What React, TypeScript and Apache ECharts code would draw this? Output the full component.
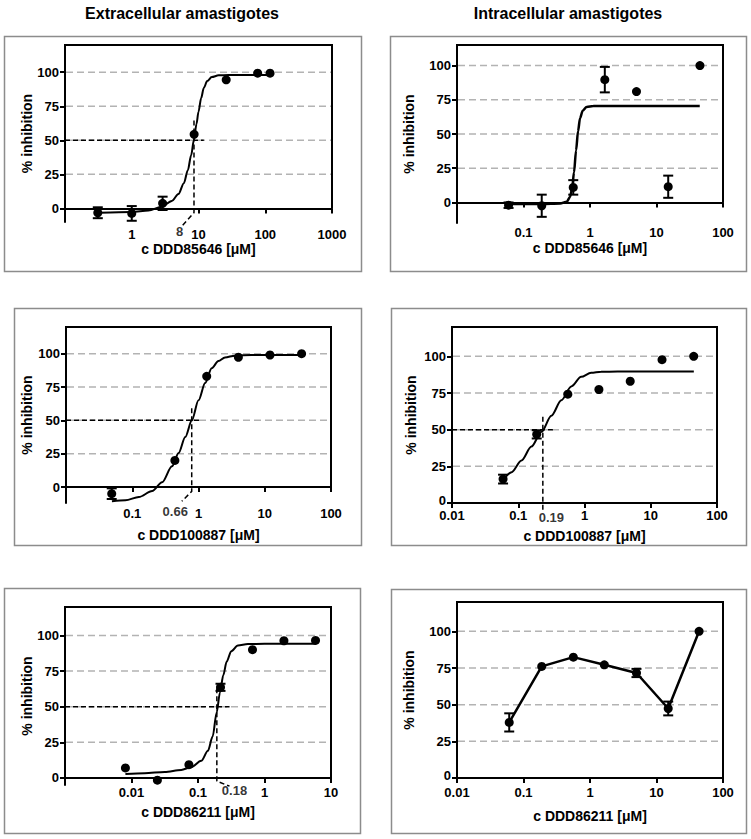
import React, { useEffect, useRef } from "react";
import * as echarts from "echarts";

// ---------- data ----------
const Y_TICKS = [0, 25, 50, 75, 100];
const GRID_VALUES = [25, 50, 75, 100];

// Panel 1: extracellular, DDD85646
const p1Conc = [0.31, 1.0, 2.9, 8.6, 26, 77, 118];
const p1Inhib = [-3.2, -3.7, 3.7, 54.4, 94.4, 99.3, 99.3];
const p1Err = [4, 5.4, 4.9, 0, 0, 0, 0];
const p1CurveConc = [0.33, 1.0, 1.78, 2.82, 3.98, 5.01, 6.03, 6.92, 7.76, 8.51, 9.33, 10.0, 10.96, 12.0, 13.5, 15.8, 20.0, 28.2, 117.5];
const p1CurveInhib = [-3.2, -2.6, -1.5, 1.2, 5.5, 10.5, 18.5, 28, 39, 50, 62, 71, 81, 88.5, 93.5, 96.5, 97.7, 98, 98];
const p1HLine = [[0.1, 50], [12, 50]];
const p1VLine = [[8.56, 64.5], [8.56, -3.2], [5.53, -13.5]];
const p1Ec50Label = [5.2, -17.2, "8"];

// Panel 2: intracellular, DDD85646
const p2Conc = [0.0596, 0.188, 0.56, 1.67, 5.0, 15, 45];
const p2Inhib = [-2.0, -2.4, 11, 89.7, 81, 11.5, 100];
const p2Err = [2, 8.1, 5.3, 9.3, 0, 8.1, 0];
const p2CurveConc = [0.0596, 0.188, 0.355, 0.447, 0.501, 0.537, 0.575, 0.617, 0.661, 0.708, 0.776, 0.891, 1.12, 2.0, 44.7];
const p2CurveInhib = [-1.2, -1.2, -0.8, 0.5, 4, 10, 22, 38, 52, 61.5, 67, 69.8, 70.4, 70.5, 70.5];

// Panel 3: extracellular, DDD100887
const p3Conc = [0.049, 0.44, 1.33, 4.0, 12, 36];
const p3Inhib = [-5, 19.9, 83, 97.3, 99, 100];
const p3Err = [4, 0, 0, 0, 0, 0];
const p3CurveConc = [0.0493, 0.079, 0.126, 0.2, 0.282, 0.398, 0.501, 0.631, 0.794, 1.0, 1.26, 1.58, 2.0, 2.51, 3.55, 6.3, 36.1];
const p3CurveInhib = [-10.7, -9.9, -7.5, -3, 3.5, 15.5, 25.5, 37.5, 50, 65, 78, 89, 94.5, 97.2, 98.5, 99, 99];
const p3HLine = [[0.01, 50], [1.06, 50]];
const p3VLine = [[0.79, 59], [0.79, -3.3], [0.56, -10.7]];
const p3Ec50Label = [0.446, -18.2, "0.66"];

// Panel 4: intracellular, DDD100887
const p4Conc = [0.059, 0.19, 0.56, 1.65, 4.9, 14.8, 44.5];
const p4Inhib = [16.3, 46.8, 74.2, 77.4, 83, 97.7, 100];
const p4Err = [3, 2.8, 0, 0, 0, 0, 0];
const p4CurveConc = [0.0589, 0.0794, 0.112, 0.158, 0.224, 0.316, 0.447, 0.631, 0.891, 1.26, 1.78, 3.16, 44.7];
const p4CurveInhib = [15.4, 21, 29, 38.5, 48.5, 59.5, 70, 79.5, 86, 88.8, 89.5, 89.6, 89.6];
const p4HLine = [[0.01, 50], [0.333, 50]];
const p4VLine = [[0.235, 58.8], [0.235, -5.7]];
const p4Ec50Label = [0.316, -9.7, "0.19"];

// Panel 5: extracellular, DDD86211
const p5Conc = [0.0081, 0.0245, 0.073, 0.218, 0.66, 1.96, 5.85];
const p5Inhib = [7.0, -1.6, 9.3, 63.6, 90, 96.3, 96.5];
const p5Err = [0, 0, 0, 2.5, 0, 0, 0];
const p5CurveConc = [0.0081, 0.0158, 0.0316, 0.056, 0.079, 0.112, 0.141, 0.166, 0.191, 0.214, 0.24, 0.269, 0.316, 0.398, 0.562, 1.0, 5.85];
const p5CurveInhib = [2.8, 3.3, 4.2, 5.6, 7.5, 12, 19, 29, 46, 60, 72, 81.5, 89, 93, 94, 94.2, 94.2];
const p5HLine = [[0.001, 50], [0.298, 50]];
const p5VLine = [[0.192, 63], [0.192, -2.3], [0.298, -5.8]];
const p5Ec50Label = [0.354, -8.6, "0.18"];

// Panel 6: intracellular, DDD86211 (points joined)
const p6Conc = [0.061, 0.188, 0.562, 1.64, 5.0, 15.0, 43.7];
const p6Inhib = [37.9, 76.1, 82.4, 77.2, 71.6, 47.4, 100];
const p6Err = [6.2, 0, 0, 0, 2.8, 4.7, 0];

// ---------- layout ----------
const FONT = "Liberation Sans";

type PanelCfg = {
  grid: { left: number; top: number; width: number; height: number };
  xMin: number; xMax: number; yMin: number; yMax: number;
  hideBelow: number;
  xName: string; xNameGap: number; xLabelMargin: number; yNameGap: number;
  liftZero?: boolean;
  conc: number[]; inhib: number[]; err: number[];
  curveConc?: number[]; curveInhib?: number[];
  joined?: boolean;
  hLine?: number[][]; vLine?: number[][]; ec50Label?: (number | string)[];
};

const panels: PanelCfg[] = [
  {
    grid: { left: 65, top: 45, width: 267, height: 177 },
    xMin: 0.1, xMax: 1000, yMin: -10, yMax: 120, hideBelow: 0.1,
    xName: "c DDD85646 [\u03bcM]", xNameGap: 20, xLabelMargin: 6, yNameGap: 31,
    conc: p1Conc, inhib: p1Inhib, err: p1Err,
    curveConc: p1CurveConc, curveInhib: p1CurveInhib,
    hLine: p1HLine, vLine: p1VLine, ec50Label: p1Ec50Label,
  },
  {
    grid: { left: 457, top: 45, width: 266, height: 178 },
    xMin: 0.01, xMax: 100, yMin: -15, yMax: 115, hideBelow: 0.01,
    xName: "c DDD85646 [\u03bcM]", xNameGap: 18, xLabelMargin: 3, yNameGap: 41,
    conc: p2Conc, inhib: p2Inhib, err: p2Err,
    curveConc: p2CurveConc, curveInhib: p2CurveInhib,
  },
  {
    grid: { left: 66, top: 327, width: 265, height: 176 },
    xMin: 0.01, xMax: 100, yMin: -12, yMax: 120, hideBelow: 0.01,
    xName: "c DDD100887 [\u03bcM]", xNameGap: 25, xLabelMargin: 4, yNameGap: 32,
    conc: p3Conc, inhib: p3Inhib, err: p3Err,
    curveConc: p3CurveConc, curveInhib: p3CurveInhib,
    hLine: p3HLine, vLine: p3VLine, ec50Label: p3Ec50Label,
  },
  {
    grid: { left: 452, top: 327, width: 265, height: 176 },
    xMin: 0.01, xMax: 100, yMin: 0, yMax: 120, hideBelow: 0.001,
    xName: "c DDD100887 [\u03bcM]", xNameGap: 26, xLabelMargin: 6, yNameGap: 34, liftZero: true,
    conc: p4Conc, inhib: p4Inhib, err: p4Err,
    curveConc: p4CurveConc, curveInhib: p4CurveInhib,
    hLine: p4HLine, vLine: p4VLine, ec50Label: p4Ec50Label,
  },
  {
    grid: { left: 65, top: 607, width: 266, height: 178 },
    xMin: 0.001, xMax: 10, yMin: -5, yMax: 120, hideBelow: 0.001,
    xName: "c DDD86211 [\u03bcM]", xNameGap: 20, xLabelMargin: 1, yNameGap: 31,
    conc: p5Conc, inhib: p5Inhib, err: p5Err,
    curveConc: p5CurveConc, curveInhib: p5CurveInhib,
    hLine: p5HLine, vLine: p5VLine, ec50Label: p5Ec50Label,
  },
  {
    grid: { left: 457, top: 602, width: 266, height: 176 },
    xMin: 0.01, xMax: 100, yMin: 0, yMax: 120, hideBelow: 0.001,
    xName: "c DDD86211 [\u03bcM]", xNameGap: 31, xLabelMargin: 8, yNameGap: 41, liftZero: true,
    conc: p6Conc, inhib: p6Inhib, err: p6Err, joined: true,
  },
];

const boxes = [
  { x: 4, y: 36, w: 357, h: 235 },
  { x: 390, y: 36, w: 356, h: 235 },
  { x: 14, y: 308, w: 347, h: 237 },
  { x: 391, y: 308, w: 355, h: 237 },
  { x: 4, y: 588, w: 356, h: 245 },
  { x: 391, y: 589, w: 355, h: 244 },
];

const labelStyle = { color: "#000", fontWeight: "bold" as const, fontFamily: FONT, fontSize: 13 };
const black = "#000";

function buildOption() {
  const grid: any[] = [];
  const xAxis: any[] = [];
  const yAxis: any[] = [];
  const series: any[] = [];

  panels.forEach((p, i) => {
    grid.push({ ...p.grid, containLabel: false });
    xAxis.push({
      gridIndex: i, type: "log", logBase: 10, min: p.xMin, max: p.xMax,
      axisLine: { onZero: true, lineStyle: { color: black, width: 2 } },
      axisTick: { length: 5, lineStyle: { color: black, width: 2 } },
      axisLabel: {
        ...labelStyle, lineHeight: 12, margin: p.xLabelMargin,
        formatter: (v: number) => (v <= p.hideBelow * 1.0001 ? "" : String(v)),
      },
      splitLine: { show: false },
      name: p.xName, nameLocation: "middle", nameGap: p.xNameGap, nameMoveOverlap: false,
      nameTextStyle: { ...labelStyle, fontSize: 14 },
    });
    yAxis.push({
      gridIndex: i, type: "value", min: p.yMin, max: p.yMax,
      axisLine: { onZero: false, lineStyle: { color: black, width: 2 } },
      axisTick: { customValues: Y_TICKS, length: 5, lineStyle: { color: black, width: 2 } },
      axisLabel: {
        ...labelStyle, lineHeight: 12, customValues: Y_TICKS, margin: 6,
        formatter: (v: number) => (p.liftZero && v === 0 ? "{lift|0}" : String(v)),
        rich: { lift: { ...labelStyle, lineHeight: 12, padding: [0, 0, 6, 0] } },
      },
      splitLine: { show: false },
      name: "% inhibition", nameLocation: "middle", nameGap: p.yNameGap, nameMoveOverlap: false,
      nameTextStyle: { ...labelStyle, fontSize: 14 },
    });

    const ax = { xAxisIndex: i, yAxisIndex: i };

    // dashed grid lines
    series.push({
      type: "custom", ...ax, z: 1, silent: true, clip: false,
      data: GRID_VALUES.map((g) => [p.xMin, g]),
      encode: { x: 0, y: 1 },
      renderItem: (params: any, api: any) => {
        const cs = params.coordSys;
        const y = api.coord([api.value(0), api.value(1)])[1];
        return {
          type: "line",
          shape: { x1: cs.x + 1, y1: y, x2: cs.x + cs.width, y2: y },
          style: { stroke: "#b3b3b3", lineWidth: 1.5, lineDash: [7, 4] },
        };
      },
    });
    // frame (top + right)
    series.push({
      type: "custom", ...ax, z: 2, silent: true, clip: false,
      data: [[p.xMax, 0]],
      encode: { x: 0, y: 1 },
      renderItem: (params: any, api: any) => {
        const cs = params.coordSys;
        const pt = api.coord([api.value(0), api.value(1)]);
        return {
          type: "group",
          children: [
            { type: "line", shape: { x1: cs.x - 1, y1: cs.y, x2: cs.x + cs.width + 1, y2: cs.y }, style: { stroke: black, lineWidth: 2 } },
            { type: "line", shape: { x1: pt[0], y1: cs.y, x2: pt[0], y2: pt[1] }, style: { stroke: black, lineWidth: 2 } },
          ],
        };
      },
    });

    if (p.curveConc && p.curveInhib) {
      series.push({
        type: "line", ...ax, z: 4, silent: true, clip: false,
        data: p.curveConc.map((c, k) => [c, p.curveInhib![k]]),
        smooth: 0.3, smoothMonotone: "x", symbol: "none",
        lineStyle: { color: black, width: i === 1 ? 2.5 : 2 },
      });
    }
    if (p.hLine) {
      series.push({
        type: "line", ...ax, z: 3, silent: true, clip: false, symbol: "none",
        data: p.hLine, lineStyle: { color: black, width: 1.5, type: [5, 3] },
      });
    }
    if (p.vLine) {
      series.push({
        type: "line", ...ax, z: 3, silent: true, clip: false, symbol: "none",
        data: p.vLine, lineStyle: { color: black, width: 1.5, type: [5, 3] },
      });
    }
    if (p.ec50Label) {
      series.push({
        type: "scatter", ...ax, z: 6, silent: true, clip: false,
        data: [[p.ec50Label[0], p.ec50Label[1]]],
        symbolSize: 1, itemStyle: { color: "transparent" },
        label: { show: true, position: "inside", formatter: String(p.ec50Label[2]), ...labelStyle, lineHeight: 12 },
      });
    }
    // error bars
    series.push({
      type: "custom", ...ax, z: 5, silent: true, clip: false,
      data: p.conc
        .map((c, k) => [c, p.inhib[k] - p.err[k], p.inhib[k] + p.err[k], p.err[k]])
        .filter((d) => d[3] > 0),
      encode: { x: 0, y: [1, 2] },
      renderItem: (_params: any, api: any) => {
        const x = api.value(0);
        const a = api.coord([x, api.value(1)]);
        const b = api.coord([x, api.value(2)]);
        const w = 5;
        const st = { stroke: black, lineWidth: 2 };
        return {
          type: "group",
          children: [
            { type: "line", shape: { x1: a[0], y1: a[1], x2: b[0], y2: b[1] }, style: st },
            { type: "line", shape: { x1: a[0] - w, y1: a[1], x2: a[0] + w, y2: a[1] }, style: st },
            { type: "line", shape: { x1: b[0] - w, y1: b[1], x2: b[0] + w, y2: b[1] }, style: st },
          ],
        };
      },
    });
    // data points
    if (p.joined) {
      series.push({
        type: "line", ...ax, z: 6, silent: true, clip: false,
        data: p.conc.map((c, k) => [c, p.inhib[k]]),
        symbol: "circle", symbolSize: 9, showSymbol: true,
        itemStyle: { color: black }, lineStyle: { color: black, width: 2.5 },
      });
    } else {
      series.push({
        type: "scatter", ...ax, z: 6, silent: true, clip: false,
        data: p.conc.map((c, k) => [c, p.inhib[k]]),
        symbol: "circle", symbolSize: 9, itemStyle: { color: black, opacity: 1 },
      });
    }
  });

  const graphic: any[] = [];
  boxes.forEach((b) => {
    graphic.push({
      type: "rect", z: -10, silent: true,
      shape: { x: b.x + 0.5, y: b.y + 0.5, width: b.w, height: b.h },
      style: { fill: "none", stroke: "#8c8c8c", lineWidth: 1.5 },
    });
  });
  graphic.push({
    type: "text", x: 182, y: 13, silent: true,
    style: { text: "Extracellular amastigotes", fill: black, font: `bold 16px "${FONT}"`, align: "center", verticalAlign: "middle" },
  });
  graphic.push({
    type: "text", x: 568, y: 13, silent: true,
    style: { text: "Intracellular amastigotes", fill: black, font: `bold 16px "${FONT}"`, align: "center", verticalAlign: "middle" },
  });

  return {
    animation: false,
    backgroundColor: "#fff",
    textStyle: { fontFamily: FONT },
    grid, xAxis, yAxis, series, graphic,
  };
}

export default function App() {
  const ref = useRef<HTMLDivElement>(null);
  useEffect(() => {
    if (!ref.current) return;
    const chart = echarts.init(ref.current, undefined, { renderer: "svg" });
    chart.setOption(buildOption() as any);
    return () => chart.dispose();
  }, []);
  return (
    <div
      ref={ref}
      style={{ position: "fixed", left: 0, top: 0, width: 751, height: 839, background: "#fff" }}
    />
  );
}
